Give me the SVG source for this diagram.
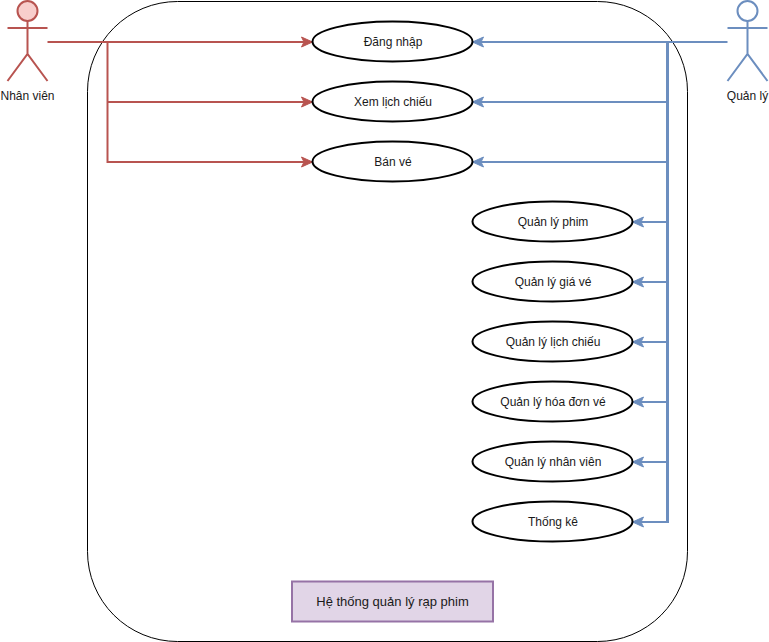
<svg xmlns="http://www.w3.org/2000/svg" width="769" height="642" viewBox="0 0 769 642">
<style>
text{font-family:"Liberation Sans",Arial,sans-serif;font-size:12px;fill:#1a1a1a;text-anchor:middle}
.uc{fill:#fff;stroke:#000;stroke-width:2}
.red{fill:none;stroke:#b85450;stroke-width:2}
.blue{fill:none;stroke:#6c8ebf;stroke-width:2}
.blue3{fill:none;stroke:#6c8ebf;stroke-width:3}
</style>
<defs>
<marker id="ar" markerUnits="userSpaceOnUse" markerWidth="14" markerHeight="14" refX="12" refY="7" orient="auto"><path d="M1 2L12 7L1 12L3.5 7Z" fill="#b85450" stroke="#b85450"/></marker>
<marker id="ab" markerUnits="userSpaceOnUse" markerWidth="14" markerHeight="14" refX="12" refY="7" orient="auto"><path d="M1 2L12 7L1 12L3.5 7Z" fill="#6c8ebf" stroke="#6c8ebf"/></marker>
</defs>
<g id="system"><rect x="87.5" y="1.5" width="600" height="640" rx="90" ry="90" fill="#fff" stroke="#000" stroke-width="1"/></g>
<g id="connectors">
<path class="red" marker-end="url(#ar)" d="M47.5 42H312.5"/>
<path class="red" marker-end="url(#ar)" d="M107.5 102H312.5"/>
<path class="red" marker-end="url(#ar)" d="M107.5 162H312.5"/>
<path class="red" d="M107.5 42V163"/>
<path class="blue" marker-end="url(#ab)" d="M727.5 42H472.5"/>
<path class="blue" marker-end="url(#ab)" d="M667.5 102H472.5"/>
<path class="blue" marker-end="url(#ab)" d="M667.5 162H472.5"/>
<path class="blue3" d="M667.5 42V523"/>
<path class="blue" marker-end="url(#ab)" d="M667.5 222H632.5"/>
<path class="blue" marker-end="url(#ab)" d="M667.5 282H632.5"/>
<path class="blue" marker-end="url(#ab)" d="M667.5 342H632.5"/>
<path class="blue" marker-end="url(#ab)" d="M667.5 402H632.5"/>
<path class="blue" marker-end="url(#ab)" d="M667.5 462H632.5"/>
<path class="blue" marker-end="url(#ab)" d="M667.5 522H632.5"/>
</g>
<g id="actor-nhan-vien">
<circle cx="27.5" cy="11" r="10" fill="#f8cecc" stroke="#b85450" stroke-width="2"/>
<path class="red" d="M27.5 21V54M7.5 28H47.5M7.5 81L27.5 54L47.5 81"/>
<text x="27.5" y="100">Nhân viên</text>
</g>
<g id="actor-quan-ly">
<circle cx="747.5" cy="11" r="10" fill="#fff" stroke="#6c8ebf" stroke-width="2"/>
<path class="blue" d="M747.5 21V54M727.5 28H767.5M727.5 81L747.5 54L767.5 81"/>
<text x="747.5" y="100">Quản lý</text>
</g>
<g id="uc-dang-nhap"><ellipse class="uc" cx="392.5" cy="41.5" rx="80" ry="20"/><text x="393" y="45.5">Đăng nhập</text></g>
<g id="uc-xem-lich-chieu"><ellipse class="uc" cx="392.5" cy="101.5" rx="80" ry="20"/><text x="393" y="105.5">Xem lịch chiếu</text></g>
<g id="uc-ban-ve"><ellipse class="uc" cx="392.5" cy="161.5" rx="80" ry="20"/><text x="393" y="165.5">Bán vé</text></g>
<g id="uc-phim"><ellipse class="uc" cx="552.5" cy="221.5" rx="80" ry="20"/><text x="553" y="225.5">Quản lý phim</text></g>
<g id="uc-gia-ve"><ellipse class="uc" cx="552.5" cy="281.5" rx="80" ry="20"/><text x="553" y="285.5">Quản lý giá vé</text></g>
<g id="uc-lich-chieu"><ellipse class="uc" cx="552.5" cy="341.5" rx="80" ry="20"/><text x="553" y="345.5">Quản lý lịch chiếu</text></g>
<g id="uc-hoa-don"><ellipse class="uc" cx="552.5" cy="401.5" rx="80" ry="20"/><text x="553" y="405.5">Quản lý hóa đơn vé</text></g>
<g id="uc-nhan-vien"><ellipse class="uc" cx="552.5" cy="461.5" rx="80" ry="20"/><text x="553" y="465.5">Quản lý nhân viên</text></g>
<g id="uc-thong-ke"><ellipse class="uc" cx="552.5" cy="521.5" rx="80" ry="20"/><text x="553" y="525.5">Thống kê</text></g>
<g id="title"><rect x="292" y="581.5" width="201" height="40" fill="#e1d5e7" stroke="#9673a6" stroke-width="2"/><text x="392.5" y="606" style="font-size:13px">Hệ thống quản lý rạp phim</text></g>
</svg>
